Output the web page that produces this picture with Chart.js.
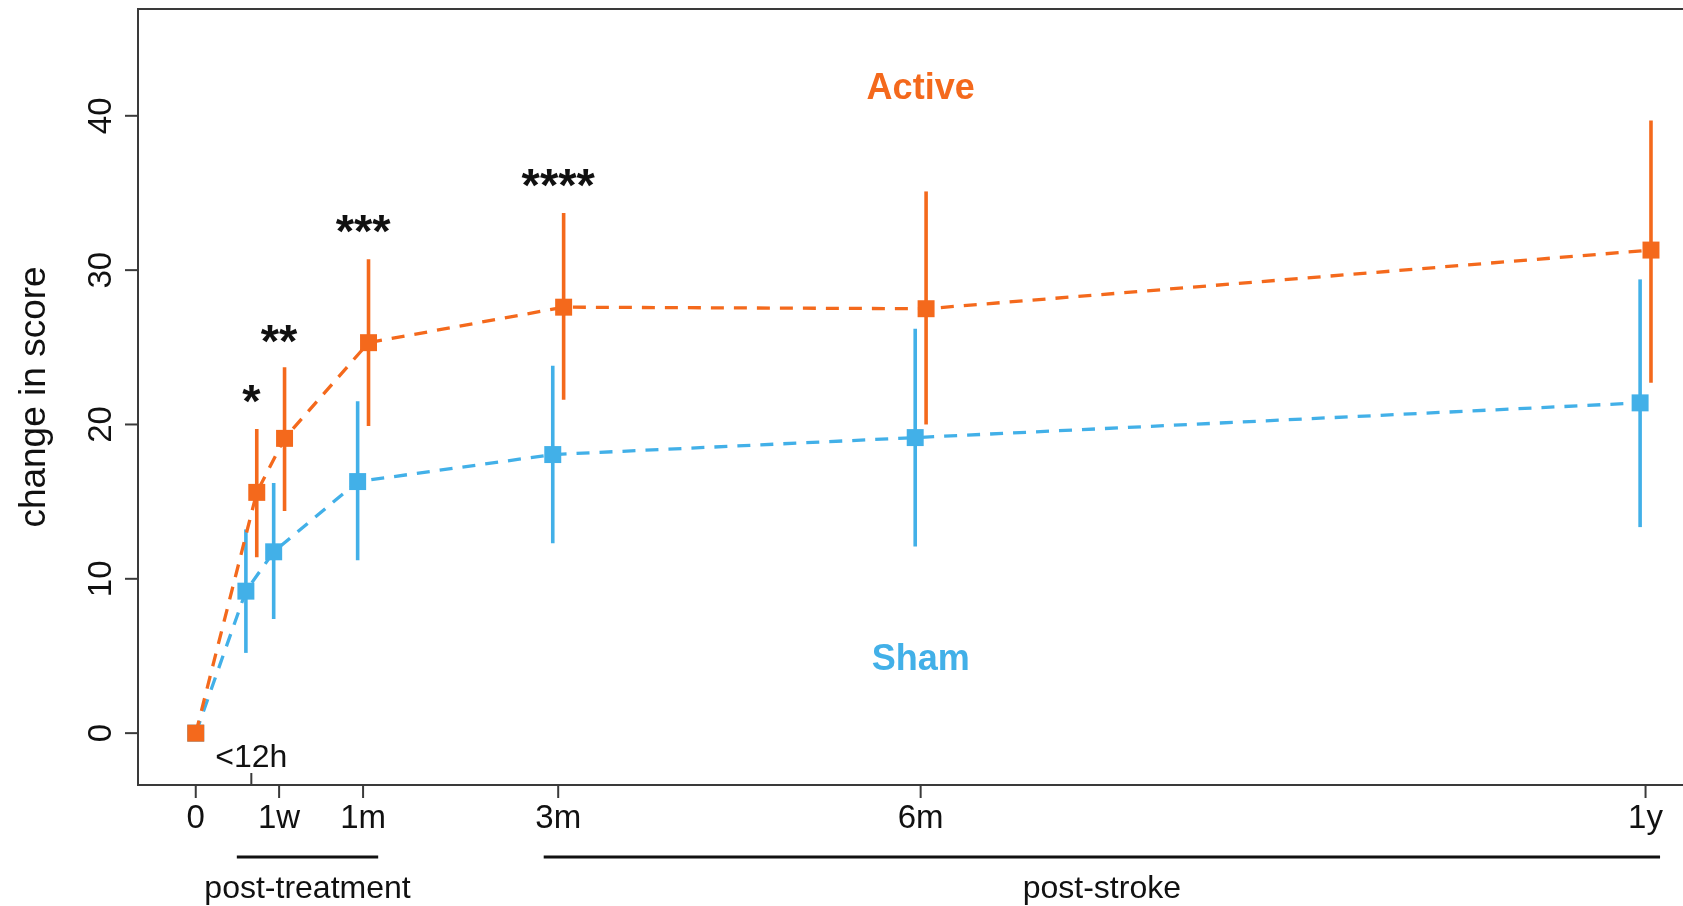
<!DOCTYPE html>
<html><head><meta charset="utf-8">
<script src="https://cdn.jsdelivr.net/npm/chart.js@4"></script>
<style>html,body{margin:0;padding:0;background:#fff;overflow:hidden}</style>
</head><body>
<canvas id="c" width="1683" height="906"></canvas>
<script>
// ---- data ----
const tickPositions = [0, 0.69, 1.385, 3, 6, 12];
const tickLabels = ['0', '1w', '1m', '3m', '6m', '1y'];
const earlyTickPos = 0.46;
const earlyTickLabel = '<12h';
const yTicks = [0, 10, 20, 30, 40];
const timeX = [0, 0.46, 0.69, 1.385, 3, 6, 12];
const activeMean = [0, 15.6, 19.1, 25.3, 27.6, 27.5, 31.3];
const activeLow  = [null, 11.4, 14.4, 19.9, 21.6, 20.0, 22.7];
const activeHigh = [null, 19.7, 23.7, 30.7, 33.7, 35.1, 39.7];
const shamMean = [0, 9.2, 11.75, 16.3, 18.05, 19.15, 21.4];
const shamLow  = [null, 5.2, 7.4, 11.2, 12.3, 12.1, 13.35];
const shamHigh = [null, 13.2, 16.2, 21.5, 23.8, 26.2, 29.4];
const starLabels = ['*', '**', '***', '****'];
const starX = [0.46, 0.69, 1.385, 3];
const starY = [22.25, 26.15, 33.25, 36.25];
const groupLabels = ['Active', 'Sham'];
const groupLabelX = [6, 6];
const groupLabelY = [41.9, 4.95];
const periodLabels = ['post-treatment', 'post-stroke'];
const periodStart = [0.34, 2.88];
const periodEnd = [1.51, 12.12];
const yTitle = 'change in score';

// ---- style ----
const ORANGE = '#F4691C';
const BLUE = '#42B0E8';
const DODGE = 0.045;
const AXIS = '#3a3a3a';
const FONT = '"Liberation Sans", Arial, sans-serif';

function pts(mean, sign) {
  return timeX.map((x, i) => ({ x: i === 0 ? x : x + sign * DODGE, y: mean[i] }));
}

const errorBars = {
  id: 'errorBars',
  beforeDatasetsDraw(chart) {
    const { ctx, scales: { x: xs, y: ys } } = chart;
    ctx.save();
    ctx.lineWidth = 3.6;
    const groups = [[shamLow, shamHigh, BLUE, -1], [activeLow, activeHigh, ORANGE, 1]];
    for (const [lo, hi, col, sign] of groups) {
      ctx.strokeStyle = col;
      for (let i = 0; i < timeX.length; i++) {
        if (lo[i] == null) continue;
        const px = xs.getPixelForValue(timeX[i] + sign * DODGE);
        ctx.beginPath();
        ctx.moveTo(px, ys.getPixelForValue(lo[i]));
        ctx.lineTo(px, ys.getPixelForValue(hi[i]));
        ctx.stroke();
      }
    }
    ctx.restore();
  }
};

const axesAndText = {
  id: 'axesAndText',
  afterDraw(chart) {
    const { ctx, chartArea: ca, scales: { x: xs, y: ys } } = chart;
    ctx.save();
    ctx.strokeStyle = AXIS;
    ctx.lineWidth = 2;
    ctx.beginPath();
    ctx.moveTo(chart.width + 5, ca.top); ctx.lineTo(ca.left, ca.top);
    ctx.lineTo(ca.left, ca.bottom); ctx.lineTo(chart.width + 5, ca.bottom);
    ctx.stroke();

    // y ticks
    ctx.fillStyle = '#111';
    ctx.font = '33px ' + FONT;
    ctx.textAlign = 'center';
    ctx.textBaseline = 'alphabetic';
    for (const v of yTicks) {
      const py = ys.getPixelForValue(v);
      ctx.beginPath(); ctx.moveTo(ca.left, py); ctx.lineTo(ca.left - 13, py); ctx.stroke();
      ctx.save();
      ctx.translate(ca.left - 27, py);
      ctx.rotate(-Math.PI / 2);
      ctx.fillText(String(v), 0, 0);
      ctx.restore();
    }
    // x ticks
    tickPositions.forEach((p, i) => {
      const px = xs.getPixelForValue(p);
      ctx.beginPath(); ctx.moveTo(px, ca.bottom); ctx.lineTo(px, ca.bottom + 13); ctx.stroke();
      ctx.fillText(tickLabels[i], px, ca.bottom + 43);
    });
    // early tick inside
    const ex = xs.getPixelForValue(earlyTickPos);
    ctx.beginPath(); ctx.moveTo(ex, ca.bottom); ctx.lineTo(ex, ca.bottom - 12); ctx.stroke();
    ctx.font = '32px ' + FONT;
    ctx.fillText(earlyTickLabel, ex, ca.bottom - 18);

    // period brackets
    ctx.strokeStyle = '#111';
    ctx.lineWidth = 3;
    periodLabels.forEach((lab, i) => {
      const x0 = xs.getPixelForValue(periodStart[i]);
      const x1 = xs.getPixelForValue(periodEnd[i]);
      ctx.beginPath(); ctx.moveTo(x0, ca.bottom + 72); ctx.lineTo(x1, ca.bottom + 72); ctx.stroke();
      ctx.fillText(lab, (x0 + x1) / 2, ca.bottom + 113);
    });

    // y title
    ctx.font = '37px ' + FONT;
    ctx.save();
    ctx.translate(45, (ca.top + ca.bottom) / 2);
    ctx.rotate(-Math.PI / 2);
    ctx.fillText(yTitle, 0, 0);
    ctx.restore();

    // stars
    ctx.font = 'bold 47px ' + FONT;
    starLabels.forEach((s, i) => {
      ctx.fillText(s, xs.getPixelForValue(starX[i]), ys.getPixelForValue(starY[i]) + 27);
    });

    // group labels
    ctx.font = 'bold 36px ' + FONT;
    [ORANGE, BLUE].forEach((col, i) => {
      ctx.fillStyle = col;
      ctx.fillText(groupLabels[i], xs.getPixelForValue(groupLabelX[i]), ys.getPixelForValue(groupLabelY[i]) + 13);
    });
    ctx.restore();
  }
};

new Chart(document.getElementById('c'), {
  type: 'scatter',
  data: {
    datasets: [
      { label: 'Active', data: pts(activeMean, 1), showLine: true,
        borderColor: ORANGE, backgroundColor: ORANGE, borderWidth: 3.3, borderDash: [13, 10],
        pointStyle: 'rect', pointRadius: 12, pointHoverRadius: 12,
        pointBackgroundColor: ORANGE, pointBorderWidth: 0 },
      { label: 'Sham', data: pts(shamMean, -1), showLine: true,
        borderColor: BLUE, backgroundColor: BLUE, borderWidth: 3.3, borderDash: [13, 10],
        pointStyle: 'rect', pointRadius: 12, pointHoverRadius: 12,
        pointBackgroundColor: BLUE, pointBorderWidth: 0 }
    ]
  },
  options: {
    responsive: false,
    animation: false,
    layout: { autoPadding: false, padding: { left: 138, top: 9, right: 0, bottom: 121 } },
    plugins: { legend: { display: false }, tooltip: { enabled: false } },
    scales: {
      x: { type: 'linear', display: false, min: -0.478, max: 12.31 },
      y: { type: 'linear', display: false, min: -3.36, max: 46.92 }
    }
  },
  plugins: [errorBars, axesAndText]
});
</script>
</body></html>
